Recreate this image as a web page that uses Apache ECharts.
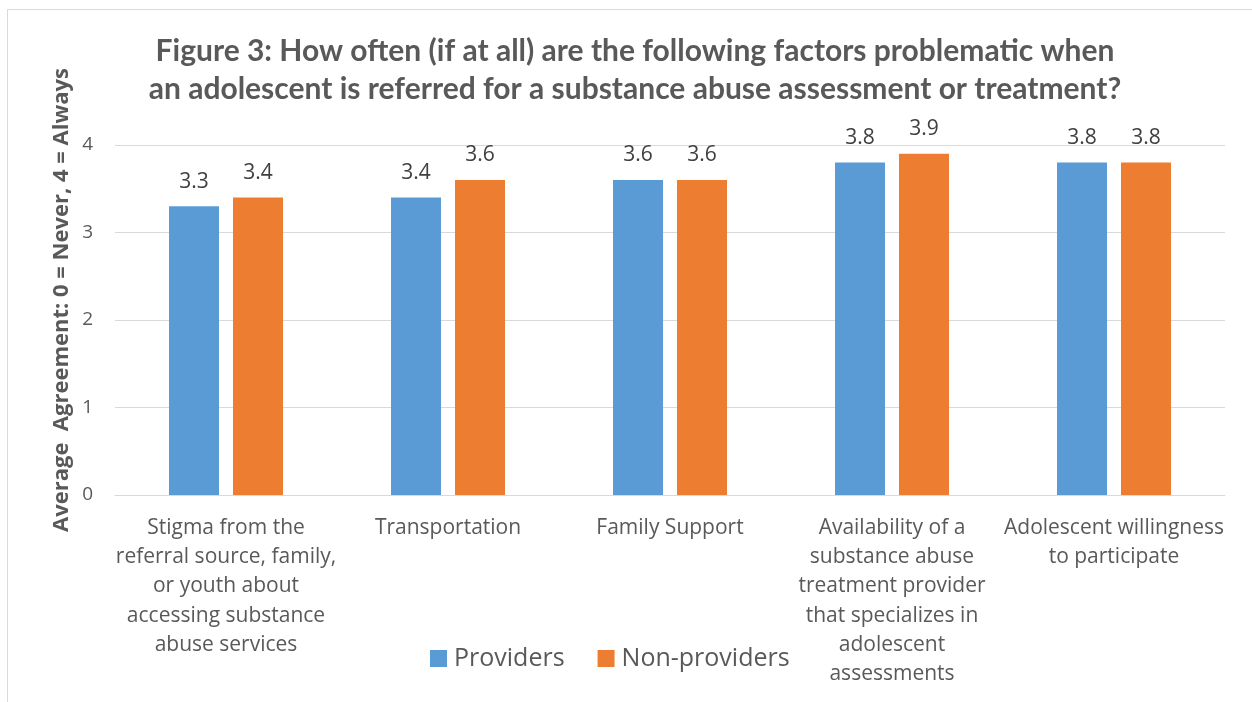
<!DOCTYPE html>
<html><head><meta charset="utf-8">
<script src="https://cdn.jsdelivr.net/npm/echarts@6/dist/echarts.min.js"></script>
<style>html,body{margin:0;padding:0;background:#fff}#c{width:1252px;height:702px}</style>
</head><body><div id="c"></div>
<script>
const categories = [
  "Stigma from the\nreferral source, family,\nor youth about\naccessing substance\nabuse services",
  "Transportation",
  "Family Support",
  "Availability of a\nsubstance abuse\ntreatment provider\nthat specializes in\nadolescent\nassessments",
  "Adolescent willingness\nto participate"
];
const providers = [3.3, 3.4, 3.6, 3.8, 3.8];
const nonProviders = [3.4, 3.6, 3.6, 3.9, 3.8];
const yTicks = [0, 1, 2, 3, 4];
const titleText = "Figure 3: How often (if at all) are the following factors problematic when\nan adolescent is referred for a substance abuse assessment or treatment?";
const yName = "Average  Agreement: 0 = Never, 4 = Always";

const FONT = "Open Sans";
const chart = echarts.init(document.getElementById('c'));
chart.setOption({
  backgroundColor: '#fff',
  animation: false,
  textStyle: {fontFamily: FONT},
  graphic: [
    {type: 'rect', shape: {x: 7.5, y: 9.5, width: 1300, height: 800}, style: {fill: 'none', stroke: '#d9d9d9', lineWidth: 1}, silent: true, z: -1},
    {type: 'text', x: 62, y: 300, rotation: Math.PI / 2, silent: true,
     style: {text: yName, fontFamily: FONT, fontSize: 22, fontWeight: 'bold', fill: '#595959', align: 'center', verticalAlign: 'middle'}}
  ],
  title: {
    text: titleText, left: 630, top: 27, textAlign: 'center',
    textStyle: {fontFamily: 'Lato', fontSize: 30, fontWeight: 'bold', color: '#595959', lineHeight: 38}
  },
  legend: {
    data: ['Providers', 'Non-providers'], left: 425, top: 641, itemWidth: 17, itemHeight: 17, itemGap: 33,
    icon: 'rect', textStyle: {fontFamily: FONT, fontSize: 25, color: '#595959', padding: [0, 0, 0, 2]}
  },
  grid: {left: 115, right: 27, top: 145, bottom: 207},
  xAxis: {
    type: 'category', data: categories,
    axisLine: {lineStyle: {color: '#d9d9d9', width: 1}}, axisTick: {show: false},
    axisLabel: {interval: 0, fontFamily: FONT, fontSize: 21, color: '#595959', lineHeight: 29.3, margin: 18}
  },
  yAxis: {
    type: 'value', min: yTicks[0], max: yTicks[yTicks.length - 1], interval: 1,
    axisLine: {show: false}, axisTick: {show: false},
    axisLabel: {fontFamily: FONT, fontSize: 19, color: '#595959', margin: 22},
    splitLine: {lineStyle: {color: '#d9d9d9', width: 1}}
  },
  series: [
    {name: 'Providers', type: 'bar', data: providers, barWidth: 50, barGap: '28%',
     itemStyle: {color: '#5b9bd5'},
     label: {show: true, position: 'top', distance: 14, fontFamily: FONT, fontSize: 21, color: '#404040', formatter: p => p.value.toFixed(1)}},
    {name: 'Non-providers', type: 'bar', data: nonProviders, barWidth: 50,
     itemStyle: {color: '#ed7d31'},
     label: {show: true, position: 'top', distance: 14, fontFamily: FONT, fontSize: 21, color: '#404040', formatter: p => p.value.toFixed(1)}}
  ]
});
</script></body></html>
